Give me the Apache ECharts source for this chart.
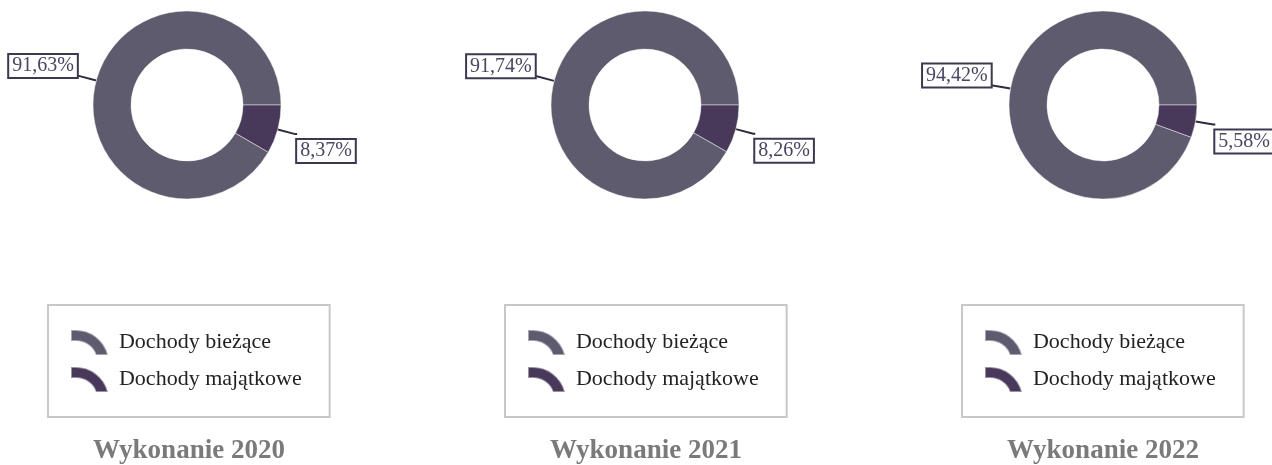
<!DOCTYPE html>
<html><head><meta charset="utf-8">
<script src="https://cdn.jsdelivr.net/npm/echarts@6/dist/echarts.min.js"></script>
<style>html,body{margin:0;padding:0;background:#fff;overflow:hidden}#c{width:1330px;height:465px}</style>
</head><body><div id="c"></div>
<script>
const categories = ['Dochody bieżące', 'Dochody majątkowe'];
const years = ['Wykonanie 2020', 'Wykonanie 2021', 'Wykonanie 2022'];
const values2020 = [91.63, 8.37];
const values2021 = [91.74, 8.26];
const values2022 = [94.42, 5.58];
const allValues = [values2020, values2021, values2022];

const colors = ['#5d5b6d', '#48385a'];
const centersX = [187, 645, 1103];
const legendLeft = [48, 505, 962];
const serif = '"Liberation Serif", "DejaVu Serif", serif';
const arcIcon = 'path://M0,0 L4,0 A33,33 0 0 1 37,25 L25,25 A21,21 0 0 0 4,11 L0,11 Z M43,25 L43,25.01';

const chart = echarts.init(document.getElementById('c'));
const series = allValues.map((vals, i) => ({
  type: 'pie',
  center: [centersX[i], 105],
  radius: [56, 94],
  startAngle: 0,
  clockwise: false,
  animation: false,
  avoidLabelOverlap: false,
  itemStyle: { borderColor: 'rgba(255,255,255,0.45)', borderWidth: 1 },
  label: {
    show: true,
    formatter: p => p.value.toFixed(2).replace('.', ',') + '%',
    fontFamily: serif, fontSize: 20, lineHeight: 20, color: '#4a4560',
    backgroundColor: '#fff', borderColor: '#3d3850', borderWidth: 2,
    padding: [2, 3, 0, 3], overflow: 'none', bleedMargin: 0, distanceToLabelLine: 0
  },
  labelLine: { show: true, length: 18, length2: 2, lineStyle: { color: '#2f2a40', width: 2 } },
  labelLayout: p => ({ dy: p.dataIndex === 0 ? -10 : 17 }),
  emphasis: { disabled: true },
  data: categories.map((c, k) => ({ name: c, value: vals[k], itemStyle: { color: colors[k] } }))
}));

chart.setOption({
  animation: false,
  color: colors,
  title: years.map((t, i) => ({
    text: t, left: legendLeft[i] + 141, top: 438, textAlign: 'center', padding: 0,
    textStyle: { fontFamily: serif, fontSize: 27, fontWeight: 'bold', color: '#7a7a7a' }
  })),
  legend: years.map((t, i) => ({
    data: categories, orient: 'vertical', left: legendLeft[i], top: 305,
    itemWidth: 43, itemHeight: 25, itemGap: 10, icon: arcIcon,
    borderColor: '#c8c8c8', borderWidth: 2, padding: [24, 28, 24, 22],
    textStyle: { fontFamily: serif, fontSize: 22, color: '#222' },
    selectedMode: false
  })),
  series: series
});
</script></body></html>
